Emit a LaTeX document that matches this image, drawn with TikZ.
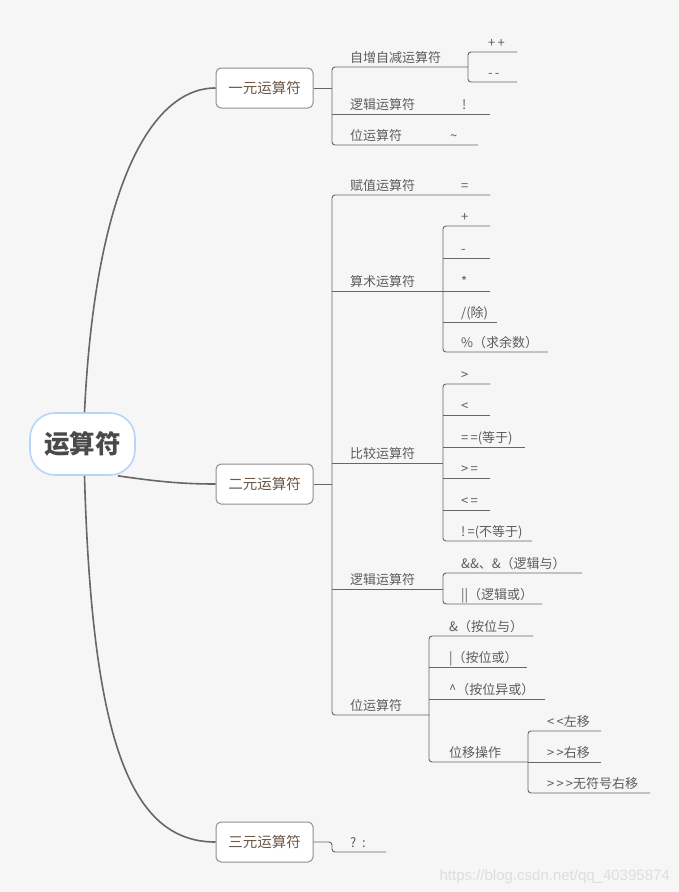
\documentclass[tikz,border=0pt]{standalone}
\usepackage{fontspec}
\setmainfont{Noto Sans CJK SC}
\newfontfamily\urlfont{Liberation Sans}
\usepackage{tikz}
\definecolor{bgpaper}{HTML}{F6F6F6}
\definecolor{rootblue}{HTML}{B7D5F8}
\definecolor{boxgray}{HTML}{8E8E8E}
\definecolor{boxtext}{HTML}{6B5846}
\definecolor{textgray}{HTML}{5C5C5C}
\definecolor{linegray}{HTML}{676767}
\definecolor{markgray}{HTML}{DEDEDE}

\tikzset{
  rootnode/.style={draw=rootblue,line width=1.6pt,fill=white,rounded corners=25pt,
    minimum width=105pt,minimum height=62pt,text=textgray!80!black,
    font=\fontsize{25.5}{28}\selectfont\bfseries},
  topicbox/.style={draw=boxgray,line width=1pt,fill=white,rounded corners=5pt,
    minimum width=97pt,minimum height=40pt,text=boxtext,font=\fontsize{14.5}{16}\selectfont},
  leaf/.style={anchor=base west,inner sep=0pt,text=textgray,font=\fontsize{13}{15}\selectfont},
  wire/.style={draw=linegray,line width=0.9pt},
  bracket/.style={wire,rounded corners=3pt},
  stem/.style={draw=linegray,line width=1.6pt},
}

\begin{document}
\begin{tikzpicture}[x=1pt,y=-1pt]
  \fill[bgpaper] (0,0) rectangle (679,892);
  \useasboundingbox (0,0) rectangle (679,892);

  % main topics
  \node[rootnode] (root) at (82.5,444) {运算符};
  \node[topicbox] (unary) at (264.5,88) {一元运算符};
  \node[topicbox] (binary) at (264.5,484) {二元运算符};
  \node[topicbox] (ternary) at (264.5,842) {三元运算符};

  \draw[stem] ([xshift=2pt]root.north) .. controls (95,190) and (150,88) .. (unary.west);
  \draw[stem] ([xshift=2pt]root.south) .. controls (92,740) and (130,842) .. (ternary.west);
  \draw[stem] (root.-42) .. controls (160,482) and (185,484) .. (binary.west);

  % unary
  \coordinate (incL) at (332,67);      \coordinate (incR) at (468,67);
  \coordinate (lognotL) at (332,114);  \coordinate (lognotR) at (490,114);
  \coordinate (bitnotL) at (332,145);  \coordinate (bitnotR) at (478,145);
  \coordinate (ppL) at (468,52);       \coordinate (ppR) at (517,52);
  \coordinate (mmL) at (468,82);       \coordinate (mmR) at (517,82);

  \draw[wire] (unary.east) -- (unary.east -| incL);
  \draw[bracket] (incR) -- (incL) -- (bitnotL) -- (bitnotR);
  \draw[wire] (lognotL) -- (lognotR);
  \draw[bracket] (ppR) -- (ppL) -- (mmL) -- (mmR);

  \node[leaf] (inc) at (350,62) {自增自减运算符};
  \node[leaf] (pp) at (488,47) {+\,+};
  \node[leaf] (mm) at (488,77) {-\,-};
  \node[leaf] (lognot) at (350,109) {逻辑运算符};
  \node[leaf] (excl) at (462,109) {!};
  \node[leaf] (bitnot) at (350,140) {位运算符};
  \node[leaf] (tilde) at (450,140) {\textasciitilde};

  % binary
  \coordinate (assignL) at (332,195);  \coordinate (assignR) at (490,195);
  \coordinate (arithL) at (332,291);   \coordinate (arithR) at (443,291);
  \coordinate (cmpL) at (332,463);     \coordinate (cmpR) at (443,463);
  \coordinate (logicL) at (332,589);   \coordinate (logicR) at (443,589);
  \coordinate (bitopL) at (332,715);   \coordinate (bitopR) at (429,715);

  \draw[wire] (binary.east) -- (binary.east -| assignL);
  \draw[bracket] (assignR) -- (assignL) -- (bitopL) -- (bitopR);
  \draw[wire] (arithL) -- (arithR);
  \draw[wire] (cmpL) -- (cmpR);
  \draw[wire] (logicL) -- (logicR);

  \node[leaf] (assign) at (350,190) {赋值运算符};
  \node[leaf] (eqsign) at (461,190) {=};
  \node[leaf] (arith) at (350,286) {算术运算符};
  \node[leaf] (cmp) at (350,458) {比较运算符};
  \node[leaf] (logic) at (350,584) {逻辑运算符};
  \node[leaf] (bitop) at (350,710) {位运算符};

  % arithmetic
  \coordinate (addL) at (443,226);  \coordinate (addR) at (490,226);
  \coordinate (subL) at (443,258);  \coordinate (subR) at (490,258);
  \coordinate (mulL) at (443,291);  \coordinate (mulR) at (490,291);
  \coordinate (divL) at (443,322);  \coordinate (divR) at (497,322);
  \coordinate (modL) at (443,352);  \coordinate (modR) at (548,352);

  \draw[bracket] (addR) -- (addL) -- (modL) -- (modR);
  \draw[wire] (subL) -- (subR);
  \draw[wire] (mulL) -- (mulR);
  \draw[wire] (divL) -- (divR);

  \node[leaf] (add) at (461,221) {+};
  \node[leaf] (sub) at (461,253) {-};
  \node[leaf] (mul) at (461,286) {*};
  \node[leaf] (div) at (461,317) {/(除)};
  \node[leaf] (mod) at (461,347) {\%（求余数）};

  % comparison
  \coordinate (gtL) at (443,384);  \coordinate (gtR) at (490,384);
  \coordinate (ltL) at (443,415);  \coordinate (ltR) at (490,415);
  \coordinate (eqL) at (443,447);  \coordinate (eqR) at (525,447);
  \coordinate (geL) at (443,478);  \coordinate (geR) at (490,478);
  \coordinate (leL) at (443,510);  \coordinate (leR) at (490,510);
  \coordinate (neL) at (443,541);  \coordinate (neR) at (532,541);

  \draw[bracket] (gtR) -- (gtL) -- (neL) -- (neR);
  \draw[wire] (ltL) -- (ltR);
  \draw[wire] (eqL) -- (eqR);
  \draw[wire] (geL) -- (geR);
  \draw[wire] (leL) -- (leR);

  \node[leaf] (gt) at (461,379) {>};
  \node[leaf] (lt) at (461,410) {<};
  \node[leaf] (eq) at (461,442) {=\,=(等于)};
  \node[leaf] (ge) at (461,473) {>\,=};
  \node[leaf] (le) at (461,505) {<\,=};
  \node[leaf] (ne) at (461,536) {!\,=(不等于)};

  % logic
  \coordinate (andL) at (443,573);  \coordinate (andR) at (582,573);
  \coordinate (orL) at (443,604);   \coordinate (orR) at (542,604);

  \draw[bracket] (andR) -- (andL) -- (orL) -- (orR);

  \node[leaf] (and) at (461,568) {\&\&、\&（逻辑与）};
  \node[leaf] (or) at (461,599) {||（逻辑或）};

  % bitwise
  \coordinate (bandL) at (429,636);   \coordinate (bandR) at (533,636);
  \coordinate (borL) at (429,667);    \coordinate (borR) at (527,667);
  \coordinate (bxorL) at (429,699);   \coordinate (bxorR) at (545,699);
  \coordinate (shiftL) at (429,762);  \coordinate (shiftR) at (528,762);

  \draw[bracket] (bandR) -- (bandL) -- (shiftL) -- (shiftR);
  \draw[wire] (borL) -- (borR);
  \draw[wire] (bxorL) -- (bxorR);

  \node[leaf] (band) at (449,631) {\&（按位与）};
  \node[leaf] (bor) at (449,662) {|（按位或）};
  \node[leaf] (bxor) at (449,694) {\textasciicircum（按位异或）};
  \node[leaf] (shift) at (449,757) {位移操作};

  % shifts
  \coordinate (shlL) at (528,731);   \coordinate (shlR) at (601,731);
  \coordinate (shrL) at (528,762);   \coordinate (shrR) at (601,762);
  \coordinate (ushrL) at (528,793);  \coordinate (ushrR) at (650,793);

  \draw[bracket] (shlR) -- (shlL) -- (ushrL) -- (ushrR);
  \draw[wire] (shrL) -- (shrR);

  \node[leaf] (shl) at (547,726) {<\,<左移};
  \node[leaf] (shr) at (547,757) {>\,>右移};
  \node[leaf] (ushr) at (547,788) {>\,>\,>无符号右移};

  % ternary
  \coordinate (condL) at (332,852);  \coordinate (condR) at (386,852);
  \draw[bracket] (ternary.east) -| (condL) -- (condR);
  \node[leaf] (cond) at (350,847) {?\;\,:};

  \node[anchor=base east,inner sep=0pt,text=markgray,font=\urlfont\fontsize{15}{17}\selectfont]
    (mark) at (670,880) {https://blog.csdn.net/qq\_40395874};
\end{tikzpicture}
\end{document}
